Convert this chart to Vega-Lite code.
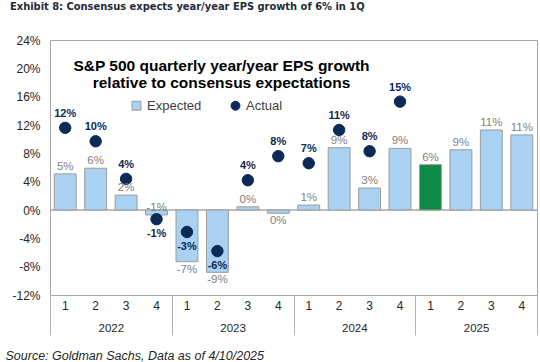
{
  "$schema": "https://vega.github.io/schema/vega-lite/v6.json",
  "width": 487,
  "height": 255,
  "autosize": {"type": "none"},
  "padding": {"left": 50, "top": 40, "right": 3, "bottom": 67},
  "background": "white",
  "config": {
    "locale": {"number": {"decimal": ".", "thousands": ",", "grouping": [3], "currency": ["$", ""], "minus": "-"}},
    "view": {"stroke": "#A6A6A6", "strokeWidth": 1},
    "font": "Liberation Sans",
    "axis": {"grid": false, "ticks": false, "domain": false, "labelFont": "Liberation Sans", "labelColor": "#262626", "labelOverlap": false},
    "axisY": {"labelOverlap": false, "labelBound": false, "labelFontSize": 12, "labelPadding": 10},
    "legend": {
      "orient": "none", "legendX": 80, "legendY": 59, "direction": "horizontal",
      "symbolSize": 80, "symbolStrokeWidth": 1, "symbolOpacity": 1, "labelFont": "Liberation Sans", "labelFontSize": 13,
      "labelColor": "#404040", "columnPadding": 27, "labelOffset": 4, "padding": 0
    }
  },
  "title": {
    "text": "Exhibit 8: Consensus expects year/year EPS growth of 6% in 1Q",
    "anchor": "start", "frame": "group", "dx": -40, "offset": 22,
    "font": "'Liberation Sans Narrow', 'DejaVu Sans Condensed', sans-serif",
    "fontWeight": "bold", "fontSize": 11, "color": "#1F2A3A"
  },
  "datasets": {
    "years": [{"year": "2022"}, {"year": "2023"}, {"year": "2024"}, {"year": "2025"}],
    "eps": [
      {"period": "2022 Q1", "year": "2022", "series": "Expected", "value": 0.051},
      {"period": "2022 Q2", "year": "2022", "series": "Expected", "value": 0.059},
      {"period": "2022 Q3", "year": "2022", "series": "Expected", "value": 0.021},
      {"period": "2022 Q4", "year": "2022", "series": "Expected", "value": -0.007},
      {"period": "2023 Q1", "year": "2023", "series": "Expected", "value": -0.073},
      {"period": "2023 Q2", "year": "2023", "series": "Expected", "value": -0.088},
      {"period": "2023 Q3", "year": "2023", "series": "Expected", "value": 0.0045},
      {"period": "2023 Q4", "year": "2023", "series": "Expected", "value": -0.0045},
      {"period": "2024 Q1", "year": "2024", "series": "Expected", "value": 0.007},
      {"period": "2024 Q2", "year": "2024", "series": "Expected", "value": 0.088},
      {"period": "2024 Q3", "year": "2024", "series": "Expected", "value": 0.031},
      {"period": "2024 Q4", "year": "2024", "series": "Expected", "value": 0.087},
      {"period": "2025 Q1", "year": "2025", "series": "Expected", "value": 0.064},
      {"period": "2025 Q2", "year": "2025", "series": "Expected", "value": 0.085},
      {"period": "2025 Q3", "year": "2025", "series": "Expected", "value": 0.113},
      {"period": "2025 Q4", "year": "2025", "series": "Expected", "value": 0.106},
      {"period": "2022 Q1", "year": "2022", "series": "Actual", "value": 0.116},
      {"period": "2022 Q2", "year": "2022", "series": "Actual", "value": 0.097},
      {"period": "2022 Q3", "year": "2022", "series": "Actual", "value": 0.044},
      {"period": "2022 Q4", "year": "2022", "series": "Actual", "value": -0.013},
      {"period": "2023 Q1", "year": "2023", "series": "Actual", "value": -0.031},
      {"period": "2023 Q2", "year": "2023", "series": "Actual", "value": -0.058},
      {"period": "2023 Q3", "year": "2023", "series": "Actual", "value": 0.042},
      {"period": "2023 Q4", "year": "2023", "series": "Actual", "value": 0.076},
      {"period": "2024 Q1", "year": "2024", "series": "Actual", "value": 0.066},
      {"period": "2024 Q2", "year": "2024", "series": "Actual", "value": 0.113},
      {"period": "2024 Q3", "year": "2024", "series": "Actual", "value": 0.083},
      {"period": "2024 Q4", "year": "2024", "series": "Actual", "value": 0.153}
    ]
  },
  "layer": [
    {
      "data": {"name": "years"},
      "mark": {"type": "bar", "fill": "transparent", "stroke": "#A6A6A6", "strokeWidth": 1},
      "encoding": {
        "x": {
          "field": "year", "type": "nominal",
          "scale": {"paddingInner": 0, "paddingOuter": 0},
          "axis": {
            "orient": "bottom", "labelAngle": 0, "labelFontSize": 11.5, "labelPadding": -13,
            "ticks": true, "tickBand": "extent", "tickSize": 40, "tickColor": "#B4B4B4", "tickWidth": 1,
            "title": "Source: Goldman Sachs, Data as of 4/10/2025",
            "titleX": -45, "titleY": 64, "titleAnchor": "start", "titleAlign": "left", "titleBaseline": "alphabetic",
            "titleFont": "Liberation Sans", "titleFontStyle": "italic", "titleFontWeight": "normal",
            "titleFontSize": 12.5, "titleColor": "#262626"
          }
        },
        "y": {
          "datum": 0, "type": "quantitative",
          "scale": {"domain": [-0.12, 0.24], "nice": false, "zero": false},
          "axis": {"title": null, "values": [-0.12, -0.08, -0.04, 0, 0.04, 0.08, 0.12, 0.16, 0.2, 0.24], "tickCount": 20, "format": ".0%", "labelOverlap": false}
        },
        "y2": {"datum": 0}
      }
    },
    {
      "data": {"name": "eps"},
      "layer": [
        {
          "transform": [{"filter": "datum.series === 'Expected'"}],
          "mark": {"type": "bar", "strokeWidth": 1, "opacity": 1},
          "encoding": {
            "x": {
              "field": "period", "type": "nominal",
              "scale": {
                "domain": ["2022 Q1", "2022 Q2", "2022 Q3", "2022 Q4", "2023 Q1", "2023 Q2", "2023 Q3", "2023 Q4", "2024 Q1", "2024 Q2", "2024 Q3", "2024 Q4", "2025 Q1", "2025 Q2", "2025 Q3", "2025 Q4"],
                "paddingInner": 0.28, "paddingOuter": 0.14
              },
              "axis": {
                "orient": "bottom", "labelAngle": 0, "labelExpr": "substring(datum.value, 6)",
                "labelFontSize": 12, "labelPadding": 5,
                "title": ["S&P 500 quarterly year/year EPS growth", "relative to consensus expectations"],
                "titleX": 171, "titleY": -237, "titleAlign": "center", "titleBaseline": "top",
                "titleFont": "Liberation Sans", "titleFontWeight": "bold", "titleFontSize": 15.5,
                "titleLineHeight": 17, "titleColor": "#000000"
              }
            },
            "y": {
              "field": "value", "type": "quantitative",
              "scale": {"domain": [-0.12, 0.24], "nice": false, "zero": false},
              "axis": {"title": null, "values": [-0.12, -0.08, -0.04, 0, 0.04, 0.08, 0.12, 0.16, 0.2, 0.24], "tickCount": 20, "format": ".0%", "labelOverlap": false}
            },
            "color": {
              "condition": {"test": "datum.period === '2025 Q1'", "value": "#0E8A47"},
              "field": "series", "type": "nominal",
              "scale": {"domain": ["Expected", "Actual"], "range": ["#A9D1F1", "#0B2A55"]},
              "legend": {"title": null}
            },
            "stroke": {
              "field": "series", "type": "nominal",
              "scale": {"domain": ["Expected", "Actual"], "range": ["#9C9C9C", "#0B2A55"]},
              "legend": {"title": null}
            }
          }
        },
        {
          "transform": [{"filter": "datum.series === 'Actual'"}],
          "mark": {"type": "point", "filled": true, "size": 130, "strokeWidth": 1, "opacity": 1},
          "encoding": {
            "x": {"field": "period", "type": "nominal"},
            "y": {"field": "value", "type": "quantitative"},
            "color": {"field": "series", "type": "nominal", "legend": {"title": null}},
            "stroke": {"field": "series", "type": "nominal", "legend": {"title": null}},
            "shape": {
              "field": "series", "type": "nominal",
              "scale": {"domain": ["Expected", "Actual"], "range": ["square", "circle"]},
              "legend": {"title": null}
            }
          }
        },
        {
          "transform": [{"filter": "datum.series === 'Expected' && (datum.value >= 0 || datum.period === '2022 Q4')"}],
          "mark": {"type": "text", "baseline": "bottom", "dy": -2, "fontSize": 11.5, "color": "#7F7F7F"},
          "encoding": {
            "x": {"field": "period", "type": "nominal"},
            "y": {"field": "value", "type": "quantitative"},
            "text": {"field": "value", "type": "quantitative", "format": ".0%"}
          }
        },
        {
          "transform": [{"filter": "datum.series === 'Expected' && datum.value < 0 && datum.period !== '2022 Q4'"}],
          "mark": {"type": "text", "baseline": "top", "dy": 2, "fontSize": 11.5, "color": "#7F7F7F"},
          "encoding": {
            "x": {"field": "period", "type": "nominal"},
            "y": {"field": "value", "type": "quantitative"},
            "text": {"field": "value", "type": "quantitative", "format": ".0%"}
          }
        },
        {
          "transform": [{"filter": "datum.series === 'Actual' && datum.value >= 0"}],
          "mark": {"type": "text", "baseline": "bottom", "dy": -9, "fontSize": 11, "fontWeight": "bold", "color": "#0B2A55"},
          "encoding": {
            "x": {"field": "period", "type": "nominal"},
            "y": {"field": "value", "type": "quantitative"},
            "text": {"field": "value", "type": "quantitative", "format": ".0%"}
          }
        },
        {
          "transform": [{"filter": "datum.series === 'Actual' && datum.value < 0"}],
          "mark": {"type": "text", "baseline": "top", "dy": 9, "fontSize": 11, "fontWeight": "bold", "color": "#0B2A55"},
          "encoding": {
            "x": {"field": "period", "type": "nominal"},
            "y": {"field": "value", "type": "quantitative"},
            "text": {"field": "value", "type": "quantitative", "format": ".0%"}
          }
        }
      ]
    }
  ],
  "resolve": {"scale": {"x": "independent"}, "axis": {"x": "independent"}}
}
